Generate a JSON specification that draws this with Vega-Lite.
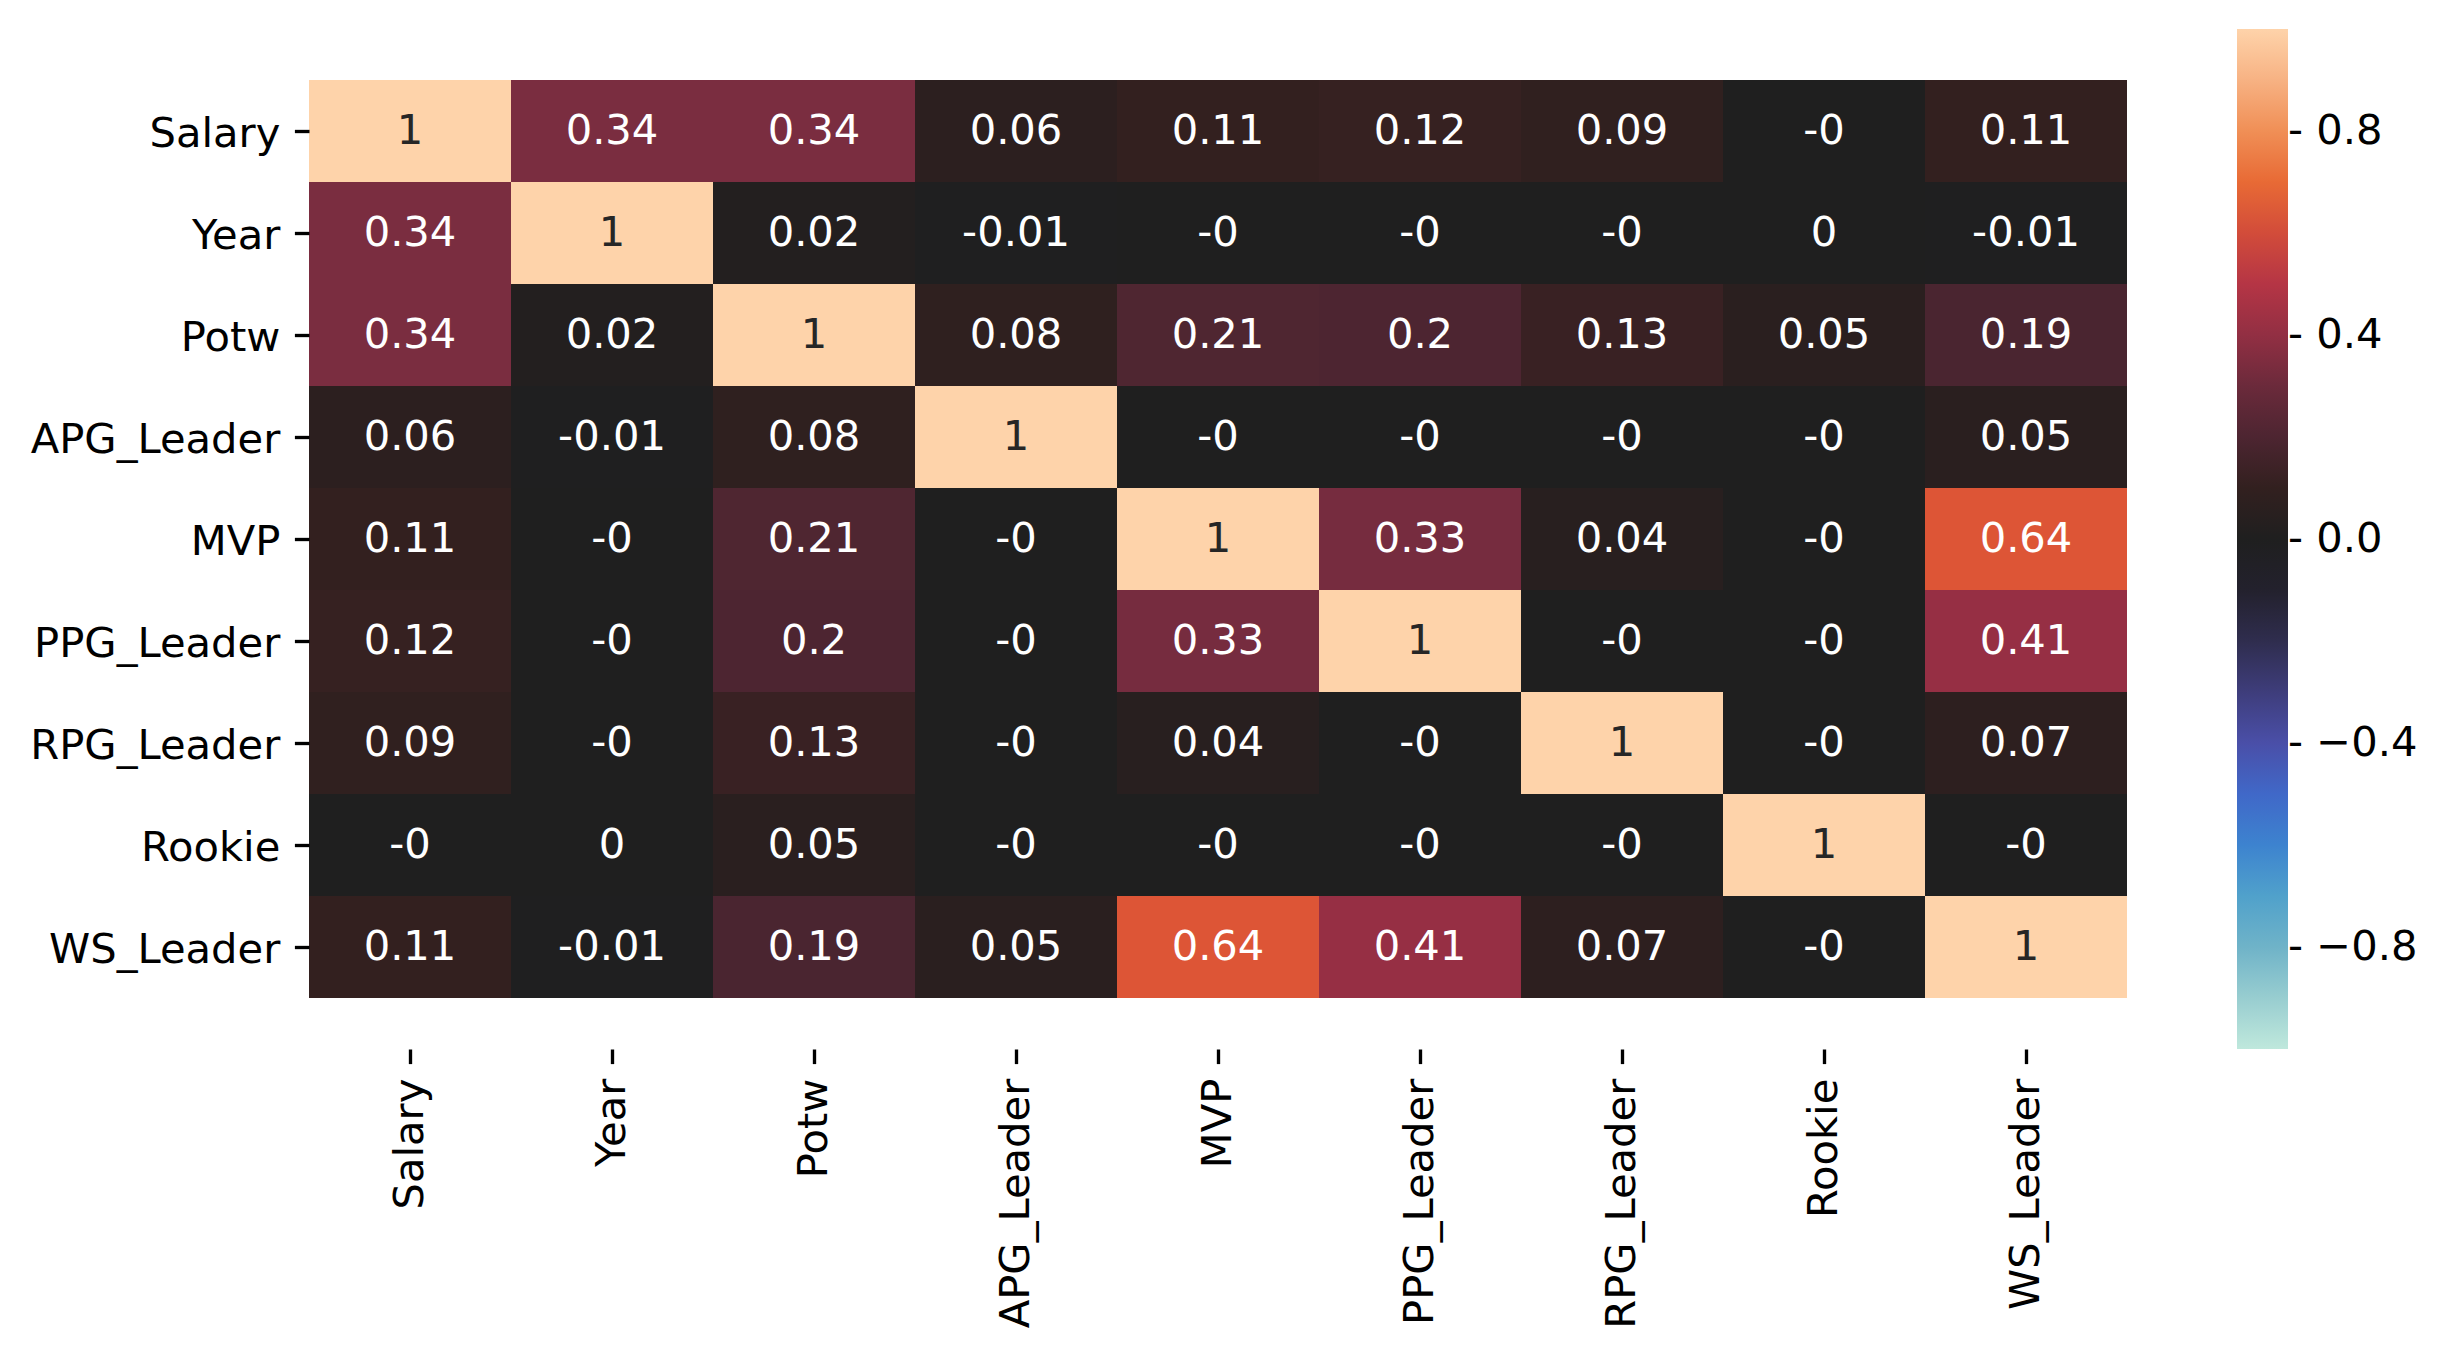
{
  "$schema": "https://vega.github.io/schema/vega-lite/v6.json",
  "width": 1818,
  "height": 1020,
  "autosize": {"type": "none"},
  "padding": {"left": 309, "top": 29, "right": 321, "bottom": 310},
  "background": "white",
  "config": {
    "view": {"stroke": null},
    "font": "DejaVu Sans"
  },
  "data": {
    "values": [
      {"row": "Salary", "col": "Salary", "v": 1, "label": "1"},
      {"row": "Salary", "col": "Year", "v": 0.34, "label": "0.34"},
      {"row": "Salary", "col": "Potw", "v": 0.34, "label": "0.34"},
      {"row": "Salary", "col": "APG_Leader", "v": 0.06, "label": "0.06"},
      {"row": "Salary", "col": "MVP", "v": 0.11, "label": "0.11"},
      {"row": "Salary", "col": "PPG_Leader", "v": 0.12, "label": "0.12"},
      {"row": "Salary", "col": "RPG_Leader", "v": 0.09, "label": "0.09"},
      {"row": "Salary", "col": "Rookie", "v": 0, "label": "-0"},
      {"row": "Salary", "col": "WS_Leader", "v": 0.11, "label": "0.11"},

      {"row": "Year", "col": "Salary", "v": 0.34, "label": "0.34"},
      {"row": "Year", "col": "Year", "v": 1, "label": "1"},
      {"row": "Year", "col": "Potw", "v": 0.02, "label": "0.02"},
      {"row": "Year", "col": "APG_Leader", "v": -0.01, "label": "-0.01"},
      {"row": "Year", "col": "MVP", "v": 0, "label": "-0"},
      {"row": "Year", "col": "PPG_Leader", "v": 0, "label": "-0"},
      {"row": "Year", "col": "RPG_Leader", "v": 0, "label": "-0"},
      {"row": "Year", "col": "Rookie", "v": 0, "label": "0"},
      {"row": "Year", "col": "WS_Leader", "v": -0.01, "label": "-0.01"},

      {"row": "Potw", "col": "Salary", "v": 0.34, "label": "0.34"},
      {"row": "Potw", "col": "Year", "v": 0.02, "label": "0.02"},
      {"row": "Potw", "col": "Potw", "v": 1, "label": "1"},
      {"row": "Potw", "col": "APG_Leader", "v": 0.08, "label": "0.08"},
      {"row": "Potw", "col": "MVP", "v": 0.21, "label": "0.21"},
      {"row": "Potw", "col": "PPG_Leader", "v": 0.2, "label": "0.2"},
      {"row": "Potw", "col": "RPG_Leader", "v": 0.13, "label": "0.13"},
      {"row": "Potw", "col": "Rookie", "v": 0.05, "label": "0.05"},
      {"row": "Potw", "col": "WS_Leader", "v": 0.19, "label": "0.19"},

      {"row": "APG_Leader", "col": "Salary", "v": 0.06, "label": "0.06"},
      {"row": "APG_Leader", "col": "Year", "v": -0.01, "label": "-0.01"},
      {"row": "APG_Leader", "col": "Potw", "v": 0.08, "label": "0.08"},
      {"row": "APG_Leader", "col": "APG_Leader", "v": 1, "label": "1"},
      {"row": "APG_Leader", "col": "MVP", "v": 0, "label": "-0"},
      {"row": "APG_Leader", "col": "PPG_Leader", "v": 0, "label": "-0"},
      {"row": "APG_Leader", "col": "RPG_Leader", "v": 0, "label": "-0"},
      {"row": "APG_Leader", "col": "Rookie", "v": 0, "label": "-0"},
      {"row": "APG_Leader", "col": "WS_Leader", "v": 0.05, "label": "0.05"},

      {"row": "MVP", "col": "Salary", "v": 0.11, "label": "0.11"},
      {"row": "MVP", "col": "Year", "v": 0, "label": "-0"},
      {"row": "MVP", "col": "Potw", "v": 0.21, "label": "0.21"},
      {"row": "MVP", "col": "APG_Leader", "v": 0, "label": "-0"},
      {"row": "MVP", "col": "MVP", "v": 1, "label": "1"},
      {"row": "MVP", "col": "PPG_Leader", "v": 0.33, "label": "0.33"},
      {"row": "MVP", "col": "RPG_Leader", "v": 0.04, "label": "0.04"},
      {"row": "MVP", "col": "Rookie", "v": 0, "label": "-0"},
      {"row": "MVP", "col": "WS_Leader", "v": 0.64, "label": "0.64"},

      {"row": "PPG_Leader", "col": "Salary", "v": 0.12, "label": "0.12"},
      {"row": "PPG_Leader", "col": "Year", "v": 0, "label": "-0"},
      {"row": "PPG_Leader", "col": "Potw", "v": 0.2, "label": "0.2"},
      {"row": "PPG_Leader", "col": "APG_Leader", "v": 0, "label": "-0"},
      {"row": "PPG_Leader", "col": "MVP", "v": 0.33, "label": "0.33"},
      {"row": "PPG_Leader", "col": "PPG_Leader", "v": 1, "label": "1"},
      {"row": "PPG_Leader", "col": "RPG_Leader", "v": 0, "label": "-0"},
      {"row": "PPG_Leader", "col": "Rookie", "v": 0, "label": "-0"},
      {"row": "PPG_Leader", "col": "WS_Leader", "v": 0.41, "label": "0.41"},

      {"row": "RPG_Leader", "col": "Salary", "v": 0.09, "label": "0.09"},
      {"row": "RPG_Leader", "col": "Year", "v": 0, "label": "-0"},
      {"row": "RPG_Leader", "col": "Potw", "v": 0.13, "label": "0.13"},
      {"row": "RPG_Leader", "col": "APG_Leader", "v": 0, "label": "-0"},
      {"row": "RPG_Leader", "col": "MVP", "v": 0.04, "label": "0.04"},
      {"row": "RPG_Leader", "col": "PPG_Leader", "v": 0, "label": "-0"},
      {"row": "RPG_Leader", "col": "RPG_Leader", "v": 1, "label": "1"},
      {"row": "RPG_Leader", "col": "Rookie", "v": 0, "label": "-0"},
      {"row": "RPG_Leader", "col": "WS_Leader", "v": 0.07, "label": "0.07"},

      {"row": "Rookie", "col": "Salary", "v": 0, "label": "-0"},
      {"row": "Rookie", "col": "Year", "v": 0, "label": "0"},
      {"row": "Rookie", "col": "Potw", "v": 0.05, "label": "0.05"},
      {"row": "Rookie", "col": "APG_Leader", "v": 0, "label": "-0"},
      {"row": "Rookie", "col": "MVP", "v": 0, "label": "-0"},
      {"row": "Rookie", "col": "PPG_Leader", "v": 0, "label": "-0"},
      {"row": "Rookie", "col": "RPG_Leader", "v": 0, "label": "-0"},
      {"row": "Rookie", "col": "Rookie", "v": 1, "label": "1"},
      {"row": "Rookie", "col": "WS_Leader", "v": 0, "label": "-0"},

      {"row": "WS_Leader", "col": "Salary", "v": 0.11, "label": "0.11"},
      {"row": "WS_Leader", "col": "Year", "v": -0.01, "label": "-0.01"},
      {"row": "WS_Leader", "col": "Potw", "v": 0.19, "label": "0.19"},
      {"row": "WS_Leader", "col": "APG_Leader", "v": 0.05, "label": "0.05"},
      {"row": "WS_Leader", "col": "MVP", "v": 0.64, "label": "0.64"},
      {"row": "WS_Leader", "col": "PPG_Leader", "v": 0.41, "label": "0.41"},
      {"row": "WS_Leader", "col": "RPG_Leader", "v": 0.07, "label": "0.07"},
      {"row": "WS_Leader", "col": "Rookie", "v": 0, "label": "-0"},
      {"row": "WS_Leader", "col": "WS_Leader", "v": 1, "label": "1"}
    ]
  },
  "encoding": {
    "x": {
      "field": "col", "type": "nominal",
      "sort": ["Salary","Year","Potw","APG_Leader","MVP","PPG_Leader","RPG_Leader","Rookie","WS_Leader"],
      "scale": {"paddingInner": 0, "paddingOuter": 0},
      "axis": {
        "title": null, "orient": "bottom", "domain": false,
        "labelAngle": 270, "labelAlign": "right", "labelBaseline": "middle",
        "labelFont": "DejaVu Sans", "labelFontSize": 41.67, "labelColor": "#000000",
        "labelPadding": 14.6, "tickSize": 14.6, "tickWidth": 3.33, "tickColor": "#000000",
        "labelLimit": 0, "labelOverlap": false
      }
    },
    "y": {
      "field": "row", "type": "nominal",
      "sort": ["Salary","Year","Potw","APG_Leader","MVP","PPG_Leader","RPG_Leader","Rookie","WS_Leader"],
      "scale": {"paddingInner": 0, "paddingOuter": 0.5},
      "axis": {
        "title": null, "domain": false,
        "labelFont": "DejaVu Sans", "labelFontSize": 41.67, "labelColor": "#000000",
        "labelPadding": 14.6, "tickSize": 14.6, "tickWidth": 3.33, "tickColor": "#000000",
        "labelOffset": 3,
        "labelLimit": 0, "labelOverlap": false
      }
    }
  },
  "layer": [
    {
      "mark": {"type": "rect", "strokeWidth": 0},
      "encoding": {
        "color": {
          "field": "v", "type": "quantitative",
          "scale": {
            "type": "linear",
            "domain": [-1, -0.9, -0.8, -0.68, -0.58, -0.5, -0.4, -0.29, -0.18, -0.09, 0, 0.05, 0.11, 0.19, 0.26, 0.34, 0.41, 0.5, 0.64, 0.7, 0.8, 0.9, 1],
            "range": ["#bfe8dc","#98cdd0","#6fb3c8","#4a9dcc","#3a7dd0","#4068c8","#4a4fa8","#3d3b76","#2c2a45","#22202a","#1f1f1f","#2a1f1f","#33201f","#4a2530","#5c2735","#7a2d40","#962f44","#b53545","#dd5536","#e86a35","#f08f56","#f7b283","#fed3aa"],
            "interpolate": "rgb"
          },
          "legend": {
            "type": "gradient",
            "orient": "none", "legendX": 1928, "legendY": 0,
            "title": null, "padding": 0,
            "direction": "vertical",
            "gradientLength": 1020, "gradientThickness": 51, "gradientStrokeWidth": 0,
            "values": [-0.8, -0.4, 0, 0.4, 0.8],
            "labelExpr": "'- ' + replace(format(datum.value, '.1f'), '-', '\u2212')",
            "labelFont": "DejaVu Sans", "labelFontSize": 41.67, "labelColor": "#000000",
            "labelOffset": 0, "labelOverlap": false, "labelLimit": 0
          }
        }
      }
    },
    {
      "mark": {"type": "text", "font": "DejaVu Sans", "fontSize": 41.67, "baseline": "middle", "align": "center"},
      "encoding": {
        "text": {"field": "label", "type": "nominal"},
        "color": {
          "condition": {"test": "datum.v > 0.9", "value": "#262626"},
          "value": "#ffffff"
        }
      }
    }
  ]
}
